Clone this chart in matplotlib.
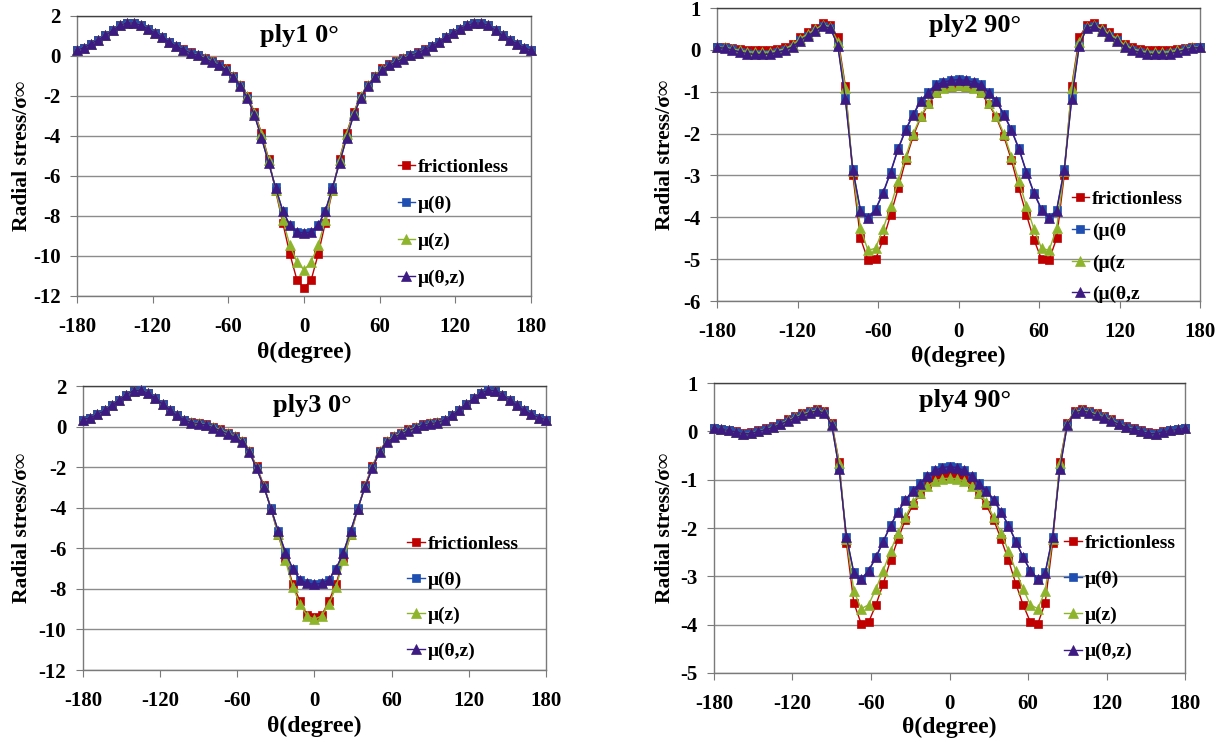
import numpy as np
import matplotlib
matplotlib.use("Agg")
import matplotlib.pyplot as plt

plt.rcParams['font.family'] = ['Liberation Serif', 'DejaVu Serif']
plt.rcParams['font.weight'] = 'bold'
plt.rcParams['axes.labelweight'] = 'bold'
plt.rcParams['axes.unicode_minus'] = False

# angular positions around the hole, 64 steps over the full circle
theta = np.linspace(-180, 180, 65)

# ply 1 (0 deg)
p1_fric = [0.28, 0.42, 0.62, 0.82, 1.03, 1.28, 1.53, 1.65, 1.65, 1.53, 1.37, 1.15, 0.95, 0.70, 0.48, 0.33,
           0.18, 0.07, -0.08, -0.25, -0.42, -0.62, -0.98, -1.45, -2.00, -2.80, -3.85, -5.15, -6.75, -8.35, -9.90, -11.20,
           -11.60,
           -11.20, -9.90, -8.35, -6.75, -5.15, -3.85, -2.80, -2.00, -1.45, -0.98, -0.62, -0.42, -0.25, -0.08, 0.07, 0.18,
           0.33, 0.48, 0.70, 0.95, 1.15, 1.37, 1.53, 1.65, 1.65, 1.53, 1.28, 1.03, 0.82, 0.62, 0.42, 0.28]
p1_mu_t = [0.28, 0.42, 0.62, 0.82, 1.03, 1.28, 1.53, 1.65, 1.65, 1.53, 1.37, 1.15, 0.95, 0.70, 0.48, 0.32,
           0.15, 0.03, -0.13, -0.30, -0.47, -0.68, -1.05, -1.50, -2.08, -2.95, -4.08, -5.35, -6.57, -7.75, -8.45, -8.78,
           -8.83,
           -8.78, -8.45, -7.75, -6.57, -5.35, -4.08, -2.95, -2.08, -1.50, -1.05, -0.68, -0.47, -0.30, -0.13, 0.03, 0.15,
           0.32, 0.48, 0.70, 0.95, 1.15, 1.37, 1.53, 1.65, 1.65, 1.53, 1.28, 1.03, 0.82, 0.62, 0.42, 0.28]
p1_mu_z = [0.28, 0.42, 0.62, 0.82, 1.03, 1.28, 1.53, 1.65, 1.65, 1.53, 1.37, 1.15, 0.95, 0.70, 0.48, 0.32,
           0.17, 0.05, -0.10, -0.27, -0.44, -0.64, -1.00, -1.47, -2.02, -2.85, -3.90, -5.20, -6.70, -8.20, -9.45, -10.30,
           -10.70,
           -10.30, -9.45, -8.20, -6.70, -5.20, -3.90, -2.85, -2.02, -1.47, -1.00, -0.64, -0.44, -0.27, -0.10, 0.05, 0.17,
           0.32, 0.48, 0.70, 0.95, 1.15, 1.37, 1.53, 1.65, 1.65, 1.53, 1.28, 1.03, 0.82, 0.62, 0.42, 0.28]
p1_mu_tz = [0.29, 0.42, 0.62, 0.82, 1.03, 1.28, 1.53, 1.65, 1.65, 1.53, 1.37, 1.15, 0.95, 0.70, 0.48, 0.32,
            0.15, 0.03, -0.13, -0.30, -0.47, -0.68, -1.05, -1.50, -2.08, -2.95, -4.10, -5.35, -6.60, -7.75, -8.45, -8.80,
            -8.85,
            -8.80, -8.45, -7.75, -6.60, -5.35, -4.10, -2.95, -2.08, -1.50, -1.05, -0.68, -0.47, -0.30, -0.13, 0.03, 0.15,
            0.32, 0.48, 0.70, 0.95, 1.15, 1.37, 1.53, 1.65, 1.65, 1.53, 1.28, 1.03, 0.82, 0.62, 0.42, 0.29]

# ply 2 (90 deg)
p2_fric = [0.08, 0.07, 0.04, 0.02, 0.00, -0.01, -0.01, 0.00, 0.02, 0.06, 0.15, 0.30, 0.42, 0.52, 0.65, 0.60,
           0.30, -0.86, -3.00, -4.50, -5.02, -5.00, -4.54, -3.94, -3.31, -2.63, -2.06, -1.61, -1.30, -1.04, -0.92, -0.88,
           -0.86,
           -0.88, -0.92, -1.04, -1.30, -1.61, -2.06, -2.63, -3.31, -3.94, -4.54, -5.00, -5.02, -4.50, -3.00, -0.86, 0.30,
           0.60, 0.65, 0.52, 0.42, 0.30, 0.15, 0.06, 0.02, 0.00, -0.01, -0.01, 0.00, 0.02, 0.04, 0.07, 0.08]
p2_mu_t = [0.07, 0.05, 0.01, -0.04, -0.08, -0.10, -0.10, -0.09, -0.05, 0.00, 0.08, 0.24, 0.34, 0.46, 0.57, 0.53,
           0.12, -1.16, -2.85, -3.82, -4.00, -3.80, -3.41, -2.91, -2.35, -1.90, -1.53, -1.21, -1.00, -0.82, -0.76, -0.72,
           -0.70,
           -0.72, -0.76, -0.82, -1.00, -1.21, -1.53, -1.90, -2.35, -2.91, -3.41, -3.80, -4.00, -3.82, -2.85, -1.16, 0.12,
           0.53, 0.57, 0.46, 0.34, 0.24, 0.08, 0.00, -0.05, -0.09, -0.10, -0.10, -0.08, -0.04, 0.01, 0.05, 0.07]
p2_mu_z = [0.07, 0.06, 0.03, -0.01, -0.04, -0.06, -0.06, -0.05, -0.02, 0.03, 0.12, 0.27, 0.38, 0.49, 0.60, 0.55,
           0.20, -0.90, -2.90, -4.26, -4.79, -4.74, -4.28, -3.74, -3.13, -2.55, -2.00, -1.58, -1.27, -1.00, -0.90, -0.86,
           -0.84,
           -0.86, -0.90, -1.00, -1.27, -1.58, -2.00, -2.55, -3.13, -3.74, -4.28, -4.74, -4.79, -4.26, -2.90, -0.90, 0.20,
           0.55, 0.60, 0.49, 0.38, 0.27, 0.12, 0.03, -0.02, -0.05, -0.06, -0.06, -0.04, -0.01, 0.03, 0.06, 0.07]
p2_mu_tz = [0.06, 0.04, 0.00, -0.05, -0.09, -0.11, -0.11, -0.10, -0.06, -0.01, 0.07, 0.22, 0.33, 0.45, 0.56, 0.52,
            0.10, -1.18, -2.88, -3.84, -4.02, -3.82, -3.43, -2.93, -2.37, -1.92, -1.55, -1.23, -1.02, -0.84, -0.77, -0.73,
            -0.71,
            -0.73, -0.77, -0.84, -1.02, -1.23, -1.55, -1.92, -2.37, -2.93, -3.43, -3.82, -4.02, -3.84, -2.88, -1.18, 0.10,
            0.52, 0.56, 0.45, 0.33, 0.22, 0.07, -0.01, -0.06, -0.10, -0.11, -0.11, -0.09, -0.05, 0.00, 0.04, 0.06]

# ply 3 (0 deg)
p3_fric = [0.35, 0.45, 0.60, 0.80, 1.06, 1.32, 1.58, 1.78, 1.80, 1.65, 1.42, 1.12, 0.82, 0.55, 0.33, 0.22,
           0.18, 0.12, 0.00, -0.12, -0.30, -0.45, -0.70, -1.20, -1.95, -2.90, -4.05, -5.35, -6.50, -7.76, -8.60, -9.30,
           -9.40,
           -9.30, -8.60, -7.76, -6.50, -5.35, -4.05, -2.90, -1.95, -1.20, -0.70, -0.45, -0.30, -0.12, 0.00, 0.12, 0.18,
           0.22, 0.33, 0.55, 0.82, 1.12, 1.42, 1.65, 1.80, 1.78, 1.58, 1.32, 1.06, 0.80, 0.60, 0.45, 0.35]
p3_mu_t = [0.35, 0.45, 0.60, 0.80, 1.06, 1.32, 1.58, 1.78, 1.80, 1.65, 1.42, 1.12, 0.82, 0.55, 0.33, 0.20,
           0.15, 0.08, -0.06, -0.20, -0.36, -0.52, -0.76, -1.25, -2.06, -2.96, -4.03, -5.15, -6.20, -7.00, -7.55, -7.70,
           -7.76,
           -7.70, -7.55, -7.00, -6.20, -5.15, -4.03, -2.96, -2.06, -1.25, -0.76, -0.52, -0.36, -0.20, -0.06, 0.08, 0.15,
           0.20, 0.33, 0.55, 0.82, 1.12, 1.42, 1.65, 1.80, 1.78, 1.58, 1.32, 1.06, 0.80, 0.60, 0.45, 0.35]
p3_mu_z = [0.35, 0.45, 0.60, 0.80, 1.06, 1.32, 1.58, 1.78, 1.80, 1.65, 1.42, 1.12, 0.82, 0.55, 0.33, 0.21,
           0.17, 0.10, -0.03, -0.16, -0.33, -0.48, -0.72, -1.22, -2.00, -2.92, -4.05, -5.30, -6.60, -7.90, -8.75, -9.33,
           -9.50,
           -9.33, -8.75, -7.90, -6.60, -5.30, -4.05, -2.92, -2.00, -1.22, -0.72, -0.48, -0.33, -0.16, -0.03, 0.10, 0.17,
           0.21, 0.33, 0.55, 0.82, 1.12, 1.42, 1.65, 1.80, 1.78, 1.58, 1.32, 1.06, 0.80, 0.60, 0.45, 0.35]
p3_mu_tz = [0.35, 0.45, 0.60, 0.80, 1.06, 1.32, 1.58, 1.78, 1.80, 1.65, 1.42, 1.12, 0.82, 0.55, 0.33, 0.20,
            0.15, 0.08, -0.06, -0.20, -0.36, -0.52, -0.76, -1.25, -2.06, -2.96, -4.05, -5.15, -6.22, -7.00, -7.55, -7.72,
            -7.78,
            -7.72, -7.55, -7.00, -6.22, -5.15, -4.05, -2.96, -2.06, -1.25, -0.76, -0.52, -0.36, -0.20, -0.06, 0.08, 0.15,
            0.20, 0.33, 0.55, 0.82, 1.12, 1.42, 1.65, 1.80, 1.78, 1.58, 1.32, 1.06, 0.80, 0.60, 0.45, 0.35]

# ply 4 (90 deg)
p4_fric = [0.06, 0.05, 0.03, 0.00, -0.03, -0.01, 0.03, 0.07, 0.12, 0.18, 0.25, 0.31, 0.37, 0.43, 0.46, 0.42,
           0.17, -0.63, -2.32, -3.55, -3.98, -3.95, -3.59, -3.15, -2.66, -2.23, -1.83, -1.53, -1.30, -1.08, -0.98, -0.92,
           -0.90,
           -0.92, -0.98, -1.08, -1.30, -1.53, -1.83, -2.23, -2.66, -3.15, -3.59, -3.95, -3.98, -3.55, -2.32, -0.63, 0.17,
           0.42, 0.46, 0.43, 0.37, 0.31, 0.25, 0.18, 0.12, 0.07, 0.03, -0.01, -0.03, 0.00, 0.03, 0.05, 0.06]
p4_mu_t = [0.06, 0.04, 0.02, -0.01, -0.05, -0.03, 0.01, 0.05, 0.09, 0.16, 0.22, 0.29, 0.34, 0.40, 0.43, 0.39,
           0.14, -0.77, -2.18, -2.92, -3.05, -2.88, -2.60, -2.27, -1.94, -1.66, -1.42, -1.22, -1.07, -0.92, -0.80, -0.74,
           -0.72,
           -0.74, -0.80, -0.92, -1.07, -1.22, -1.42, -1.66, -1.94, -2.27, -2.60, -2.88, -3.05, -2.92, -2.18, -0.77, 0.14,
           0.39, 0.43, 0.40, 0.34, 0.29, 0.22, 0.16, 0.09, 0.05, 0.01, -0.03, -0.05, -0.01, 0.02, 0.04, 0.06]
p4_mu_z = [0.06, 0.04, 0.02, -0.02, -0.05, -0.03, 0.01, 0.05, 0.10, 0.16, 0.23, 0.29, 0.35, 0.41, 0.44, 0.40,
           0.15, -0.65, -2.22, -3.30, -3.67, -3.59, -3.26, -2.88, -2.47, -2.10, -1.78, -1.47, -1.28, -1.13, -1.03, -0.98,
           -0.97,
           -0.98, -1.03, -1.13, -1.28, -1.47, -1.78, -2.10, -2.47, -2.88, -3.26, -3.59, -3.67, -3.30, -2.22, -0.65, 0.15,
           0.40, 0.44, 0.41, 0.35, 0.29, 0.23, 0.16, 0.10, 0.05, 0.01, -0.03, -0.05, -0.02, 0.02, 0.04, 0.06]
p4_mu_tz = [0.06, 0.04, 0.02, -0.01, -0.05, -0.04, 0.00, 0.04, 0.08, 0.15, 0.21, 0.28, 0.33, 0.39, 0.42, 0.38,
            0.13, -0.78, -2.19, -2.93, -3.06, -2.89, -2.61, -2.28, -1.95, -1.67, -1.43, -1.23, -1.08, -0.93, -0.81, -0.75,
            -0.73,
            -0.75, -0.81, -0.93, -1.08, -1.23, -1.43, -1.67, -1.95, -2.28, -2.61, -2.89, -3.06, -2.93, -2.19, -0.78, 0.13,
            0.38, 0.42, 0.39, 0.33, 0.28, 0.21, 0.15, 0.08, 0.04, 0.00, -0.04, -0.05, -0.01, 0.02, 0.04, 0.06]

labels = ['frictionless', 'μ(θ)', 'μ(z)', 'μ(θ,z)']
labels_ply2 = ['frictionless', '(μ(θ', '(μ(z', '(μ(θ,z']

RED = '#C00000'
BLUE = '#1F4FB0'
GREEN = '#8DB42A'
PURPLE = '#3C1A82'
GRID = '#8C8C8C'


def draw_panel(ax, fric, mu_t, mu_z, mu_tz, names, ylim, ystep, title, title_xy,
               leg_xy, leg_space, ylab_x, xlab_y):
    styles = [(fric, RED, 's', 6.4), (mu_t, BLUE, 's', 6.4),
              (mu_z, GREEN, '^', 6.8), (mu_tz, PURPLE, '^', 6.8)]
    for (vals, col, mk, ms), name in zip(styles, names):
        ax.plot(theta, vals, color=col, marker=mk, ms=ms, mec=col, mew=0.5,
                lw=1, label=name, clip_on=False, zorder=3)

    ax.set_xlim(-180, 180)
    ax.set_ylim(*ylim)
    ax.set_xticks(np.arange(-180, 181, 60))
    ax.set_yticks(np.arange(ylim[0], ylim[1] + 0.1, ystep))
    ax.yaxis.grid(True, color=GRID, lw=1)
    ax.set_axisbelow(True)
    for sp in ax.spines.values():
        sp.set_color('#7a7a7a')
        sp.set_linewidth(1)
    ax.spines['top'].set_color('#404040')
    ax.tick_params(axis='both', direction='out', length=5, color='#7a7a7a',
                   labelsize=15)
    ax.tick_params(axis='x', pad=10)
    ax.tick_params(axis='y', pad=7)

    ax.text(title_xy[0], title_xy[1], title, transform=ax.transAxes,
            ha='center', va='center', fontsize=19, fontweight='bold')

    ax.set_ylabel('Radial stress/σ∞', fontsize=15.5)
    ax.yaxis.set_label_coords(ylab_x, 0.5)
    ax.yaxis.label.set_va('center')
    ax.set_xlabel('θ(degree)', fontsize=17)
    ax.xaxis.set_label_coords(0.5, xlab_y)
    ax.xaxis.label.set_va('center')

    ax.legend(loc='upper left', bbox_to_anchor=leg_xy, frameon=False,
              fontsize=14, handlelength=0.9, handletextpad=0.15,
              labelspacing=leg_space, borderaxespad=0, borderpad=0)


fig = plt.figure(figsize=(12.27, 7.42), dpi=100)

ax1 = fig.add_axes([0.0628, 0.6011, 0.3700, 0.3774])
ax2 = fig.add_axes([0.5844, 0.5943, 0.3936, 0.3949])
ax3 = fig.add_axes([0.0676, 0.0970, 0.3773, 0.3827])
ax4 = fig.add_axes([0.5819, 0.0930, 0.3839, 0.3908])

draw_panel(ax1, p1_fric, p1_mu_t, p1_mu_z, p1_mu_tz, labels, (-12, 2), 2,
           'ply1 0°', (0.49, 0.93), (0.706, 0.492), 1.0, -0.121, -0.20)
draw_panel(ax2, p2_fric, p2_mu_t, p2_mu_z, p2_mu_tz, labels_ply2, (-6, 1), 1,
           'ply2 90°', (0.534, 0.94), (0.734, 0.377), 0.72, -0.108, -0.19)
draw_panel(ax3, p3_fric, p3_mu_t, p3_mu_z, p3_mu_tz, labels, (-12, 2), 2,
           'ply3 0°', (0.495, 0.933), (0.701, 0.475), 0.93, -0.132, -0.20)
draw_panel(ax4, p4_fric, p4_mu_t, p4_mu_z, p4_mu_tz, labels, (-5, 1), 1,
           'ply4 90°', (0.533, 0.94), (0.744, 0.478), 0.95, -0.104, -0.186)

fig.savefig('out.png', dpi=100)
